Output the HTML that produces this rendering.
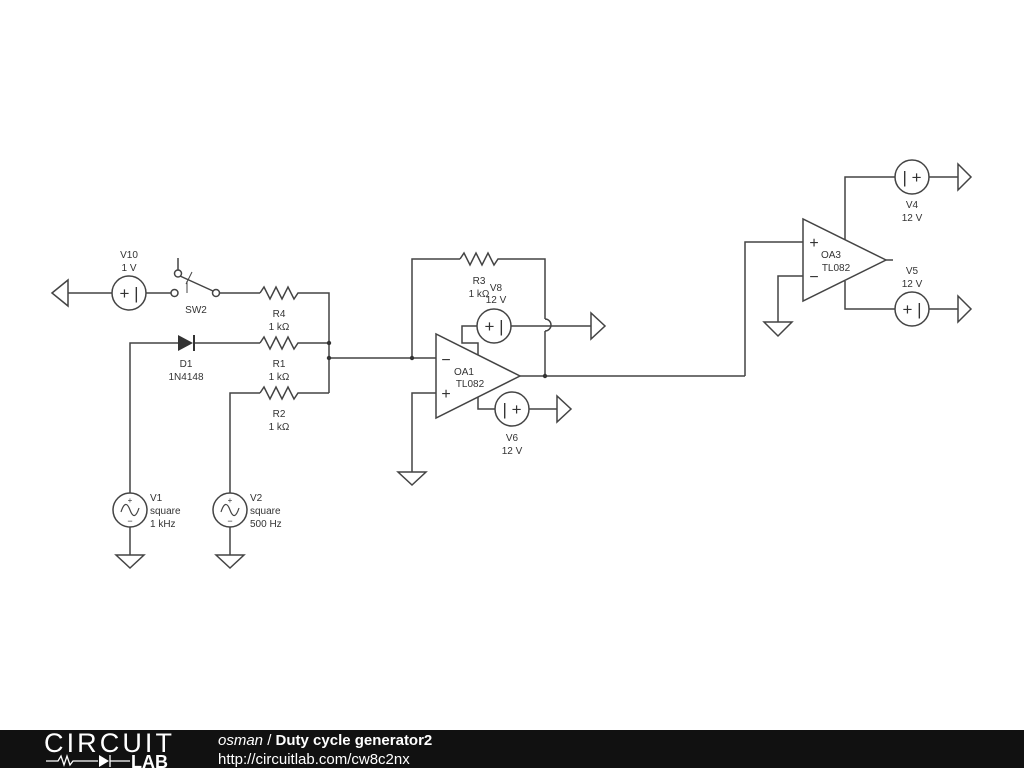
<!DOCTYPE html>
<html><head><meta charset="utf-8"><style>
body{margin:0;width:1024px;height:768px;background:#fff;overflow:hidden;font-family:"Liberation Sans",sans-serif}
svg{position:absolute;left:0;top:0}
text{font-family:"Liberation Sans",sans-serif;font-size:10px;fill:#333;text-anchor:middle}
</style></head><body>
<svg width="1024" height="768" viewBox="0 0 1024 768">
<g fill="none" stroke="#444" stroke-width="1.5">
<polygon points="52,293 68,280 68,306" fill="#fff"/>
<line x1="68" y1="293" x2="112" y2="293"/>
<circle cx="129" cy="293" r="17"/>
<line x1="146" y1="293" x2="171" y2="293"/>
<circle cx="174.5" cy="293" r="3.5"/>
<circle cx="216" cy="293" r="3.5"/>
<line x1="178" y1="258" x2="178" y2="270"/>
<circle cx="178" cy="273.5" r="3.5"/>
<line x1="180" y1="276" x2="213" y2="291"/>
<line x1="186" y1="284" x2="192" y2="272" stroke-width="1"/>
<line x1="187" y1="281" x2="187" y2="293" stroke-width="1"/>
<line x1="219.5" y1="293" x2="260" y2="293"/>
<polyline points="260,293 264,287 270,299 276,287 282,299 288,287 294,299 298,293 329,293 329,393"/>
<polyline points="130,493 130,343 178,343"/>
<line x1="194" y1="343" x2="260" y2="343"/>
<polyline points="260,343 264,337 270,349 276,337 282,349 288,337 294,349 298,343 329,343"/>
<polyline points="230,493 230,393 260,393"/>
<polyline points="260,393 264,387 270,399 276,387 282,399 288,387 294,399 298,393 329,393"/>
<line x1="329" y1="358" x2="436" y2="358"/>
<circle cx="130" cy="510" r="17"/>
<circle cx="230" cy="510" r="17"/>
<polyline points="130,527 130,555"/><polygon points="116,555 144,555 130,568" fill="#fff"/>
<polyline points="230,527 230,555"/><polygon points="216,555 244,555 230,568" fill="#fff"/>
<path d="M121,512 Q125.5,498 130,510 Q134.5,522 139,508" stroke-width="1.2"/>
<path d="M221,512 Q225.5,498 230,510 Q234.5,522 239,508" stroke-width="1.2"/>
<polyline points="412,358 412,259 460,259"/>
<polyline points="460,259 464,253 470,265 476,253 482,265 488,253 494,265 498,259 545,259 545,319"/>
<path d="M545,319 A6,6 0 0 1 545,331"/>
<line x1="545" y1="331" x2="545" y2="376"/>
<polygon points="436,334 436,418 520,376"/>
<line x1="520" y1="376" x2="745" y2="376"/>
<polyline points="436,393 412,393 412,472"/>
<polygon points="398,472 426,472 412,485" fill="#fff"/>
<polyline points="478,355 478,343 462,343 462,326 477,326"/>
<circle cx="494" cy="326" r="17"/>
<line x1="511" y1="326" x2="591" y2="326"/>
<polygon points="591,313 591,339 605,326" fill="#fff"/>
<polyline points="478,397 478,409 495,409"/>
<circle cx="512" cy="409" r="17"/>
<line x1="529" y1="409" x2="557" y2="409"/>
<polygon points="557,396 557,422 571,409" fill="#fff"/>
<polyline points="745,376 745,242 803,242"/>
<polygon points="803,219 803,301 886,260"/>
<line x1="886" y1="260" x2="893" y2="260"/>
<polyline points="803,276 778,276 778,322"/>
<polygon points="764,322 792,322 778,336" fill="#fff"/>
<polyline points="845,240 845,177 895,177"/>
<circle cx="912" cy="177" r="17"/>
<line x1="929" y1="177" x2="958" y2="177"/>
<polygon points="958,164 958,190 971,177" fill="#fff"/>
<polyline points="845,281 845,309 895,309"/>
<circle cx="912" cy="309" r="17"/>
<line x1="929" y1="309" x2="958" y2="309"/>
<polygon points="958,296 958,322 971,309" fill="#fff"/>
</g>
<polygon points="178,335 178,351 193,343" fill="#333"/>
<line x1="194" y1="335" x2="194" y2="351" stroke="#333" stroke-width="2"/>
<g fill="#333"><circle cx="329" cy="343" r="2.2"/><circle cx="329" cy="358" r="2.2"/><circle cx="412" cy="358" r="2.2"/><circle cx="545" cy="376" r="2.2"/></g>
<g fill="#444">
<text x="129" y="299" style="font-size:17px">+ |</text>
<text x="494" y="332" style="font-size:17px">+ |</text>
<text x="512" y="415" style="font-size:17px">| +</text>
<text x="912" y="183" style="font-size:17px">| +</text>
<text x="912" y="315" style="font-size:17px">+ |</text>
<text x="446" y="365" style="font-size:16px">−</text>
<text x="446" y="399" style="font-size:16px">+</text>
<text x="814" y="248" style="font-size:16px">+</text>
<text x="814" y="282" style="font-size:16px">−</text>
<text x="130" y="503" style="font-size:8px">+</text><text x="130" y="524" style="font-size:9px">−</text>
<text x="230" y="503" style="font-size:8px">+</text><text x="230" y="524" style="font-size:9px">−</text>
</g>
<text x="129" y="258">V10</text><text x="129" y="271">1 V</text>
<text x="196" y="313">SW2</text>
<text x="279" y="317">R4</text><text x="279" y="330">1 kΩ</text>
<text x="186" y="367">D1</text><text x="186" y="380">1N4148</text>
<text x="279" y="367">R1</text><text x="279" y="380">1 kΩ</text>
<text x="279" y="417">R2</text><text x="279" y="430">1 kΩ</text>
<text x="479" y="284">R3</text><text x="479" y="297">1 kΩ</text>
<text x="496" y="291">V8</text><text x="496" y="303">12 V</text>
<text x="464" y="375">OA1</text>
<text x="470" y="387">TL082</text>
<text x="512" y="441">V6</text><text x="512" y="454">12 V</text>
<text x="831" y="258">OA3</text><text x="836" y="271">TL082</text>
<text x="912" y="208">V4</text><text x="912" y="221">12 V</text>
<text x="912" y="274">V5</text><text x="912" y="287">12 V</text>
<text x="150" y="501" style="text-anchor:start">V1</text><text x="150" y="514" style="text-anchor:start">square</text><text x="150" y="527" style="text-anchor:start">1 kHz</text>
<text x="250" y="501" style="text-anchor:start">V2</text><text x="250" y="514" style="text-anchor:start">square</text><text x="250" y="527" style="text-anchor:start">500 Hz</text>
<rect x="0" y="730" width="1024" height="38" fill="#111"/>
<text x="44" y="752" style="font-size:27px;fill:#fff;text-anchor:start;letter-spacing:0px" textLength="128">CIRCUIT</text>
<g stroke="#fff" stroke-width="1.3" fill="none"><polyline points="46,761 58,761 61,756 64,765 67,756 70,765 73,761 98,761"/><line x1="110" y1="761" x2="130" y2="761"/><line x1="110" y1="755" x2="110" y2="767"/></g>
<polygon points="99,755 99,767 109,761" fill="#fff"/>
<text x="131" y="768" style="font-size:18px;fill:#fff;font-weight:bold;text-anchor:start">LAB</text>
<text x="218" y="745" style="font-size:15px;fill:#fff;text-anchor:start"><tspan font-style="italic">osman</tspan> / <tspan font-weight="bold">Duty cycle generator2</tspan></text>
<text x="218" y="764" style="font-size:15px;fill:#fff;text-anchor:start">http://circuitlab.com/cw8c2nx</text>
</svg>
</body></html>
